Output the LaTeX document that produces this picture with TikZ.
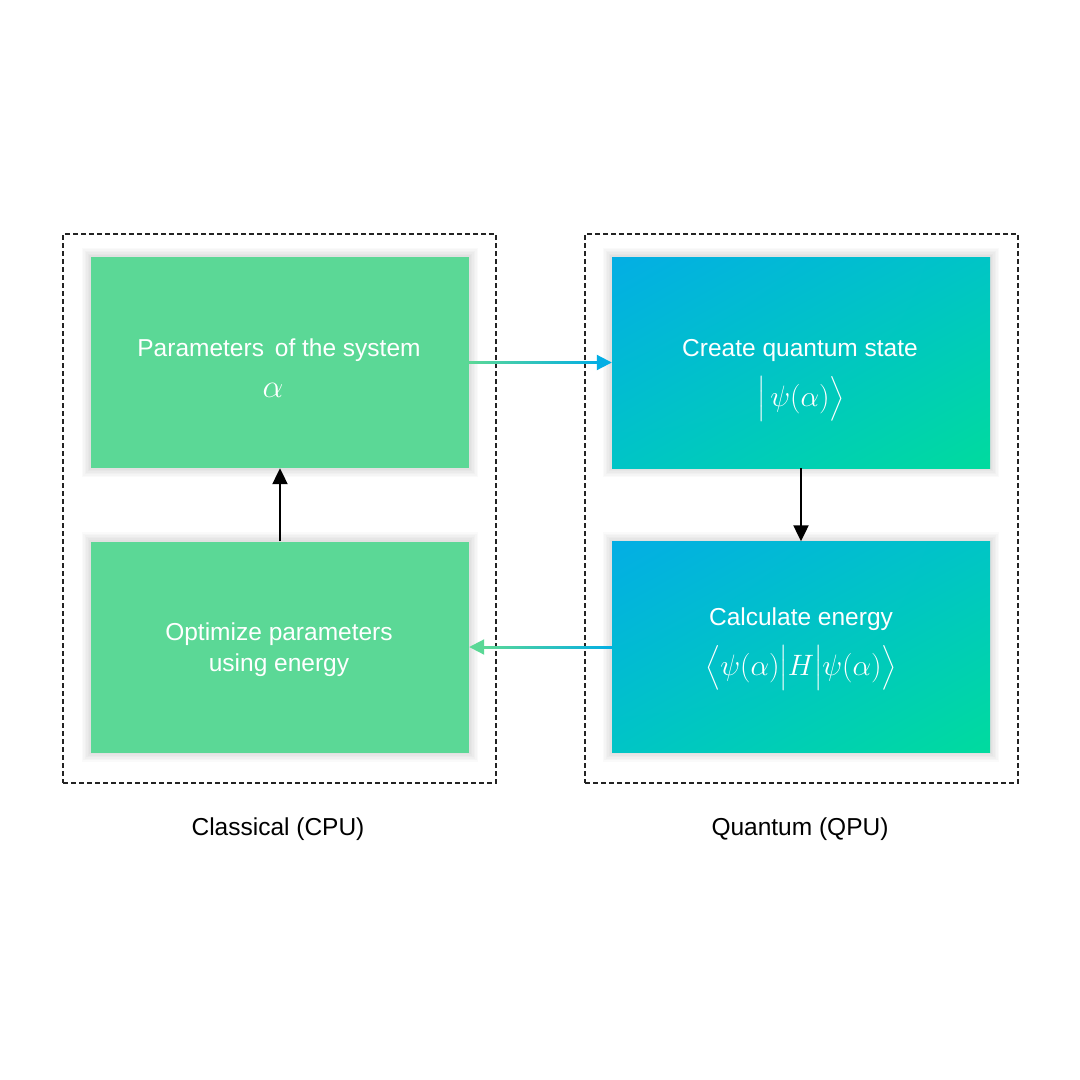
\RequirePackage{fix-cm}
\documentclass[tikz,border=0pt]{standalone}
\usepackage{amsmath}
\usepackage{fontspec}
\setmainfont{Liberation Sans}
\usetikzlibrary{arrows.meta,calc,shadings,backgrounds}
\definecolor{cgreen}{RGB}{91,216,150}
\definecolor{qblue}{RGB}{3,174,228}
\definecolor{qmid}{RGB}{0,197,198}
\definecolor{qgreen}{RGB}{0,219,158}
\definecolor{dashc}{RGB}{35,35,35}
\newcommand{\dl}[1]{\vcenter{\hbox{\fontsize{24}{29}\selectfont$\Big#1$}}}
\tikzset{
  box/.style={minimum width=378pt, minimum height=211pt, inner sep=0pt},
  cbox/.style={box, fill=cgreen},
  qbox/.style={box, shade, upper left=qblue, upper right=qmid, lower left=qmid, lower right=qgreen},
  glow/.style={fill=black, fill opacity=0.018},
  boxtext/.style={anchor=base, inner sep=0pt, text=white, font=\fontsize{24.5}{29}\selectfont},
  boxmath/.style={anchor=base, inner sep=0pt, text=white, font=\fontsize{29.5}{35}\selectfont},
  region/.style={draw=dashc, dash pattern=on 5pt off 3pt, line width=1.2pt,
    minimum width=433pt, minimum height=549pt, inner sep=0pt},
  blackarrow/.style={line width=2.2pt, black, -{Triangle[length=16pt,width=15pt]}},
  flowarrow/.style={line width=2pt, -{Triangle[length=15pt,width=15pt]}},
  caption/.style={anchor=base, inner sep=0pt, font=\fontsize{24.5}{29}\selectfont, text=black}
}
\begin{document}
\begin{tikzpicture}[x=1pt,y=-1pt]
\begin{scope}[on background layer]
\useasboundingbox[fill=white] (0,0) rectangle (1080,1080);
\end{scope}
\node[region] (cpu) at (279.5,508.5) {};
\node[region] (qpu) at (801.5,508.5) {};
\node[cbox] (par) at (280,362.5) {};
\node[cbox] (opt) at (280,647) {};
\node[qbox] (cre) at (801,362.5) {};
\node[qbox] (cal) at (801,647) {};
% soft glow behind the boxes
\begin{scope}[on background layer]
\foreach \b in {par,opt,cre,cal}{
  \foreach \d in {1.5,3,4.5,6,7.5,9}{
    \fill[glow] ($(\b.south west)+(-\d,\d)$) rectangle ($(\b.north east)+(\d,-\d)$);
  }
}
\end{scope}
% texts in boxes
\node[boxtext] (part) at (279,356) {Parameters\ \,of the system};
\node[boxmath, font=\fontsize{33}{38}\selectfont] (parm) at (273,397) {$\alpha$};
\node[boxtext] (optt1) at (279,640) {Optimize parameters};
\node[boxtext] (optt2) at (279,671) {using energy};
\node[boxtext] (cret) at (800,356) {Create quantum state};
\node[boxmath] (crem) at (801,406) {$\dl|\,\psi(\alpha)\dl\rangle$};
\node[boxtext] (calt) at (801,625) {Calculate energy};
\node[boxmath] (calm) at (801,675) {$\dl\langle\psi(\alpha)\dl|H\dl|\psi(\alpha)\dl\rangle$};
% captions
\node[caption] (lc) at (278,835) {Classical (CPU)};
\node[caption] (lq) at (800,835) {Quantum (QPU)};
% connectors
\draw[flowarrow, qblue] (par.east) -- (cre.west);
\shade[left color=cgreen, right color=qblue] ($(par.east)+(0,-1)$) rectangle ($(cre.west)+(-14,1)$);
\draw[flowarrow, cgreen] (cal.west) -- (opt.east);
\shade[left color=cgreen, right color=qblue] ($(opt.east)+(14,-1)$) rectangle ($(cal.west)+(0,1)$);
\draw[blackarrow] (opt.north) -- (par.south);
\draw[blackarrow] (cre.south) -- (cal.north);
\end{tikzpicture}
\end{document}
